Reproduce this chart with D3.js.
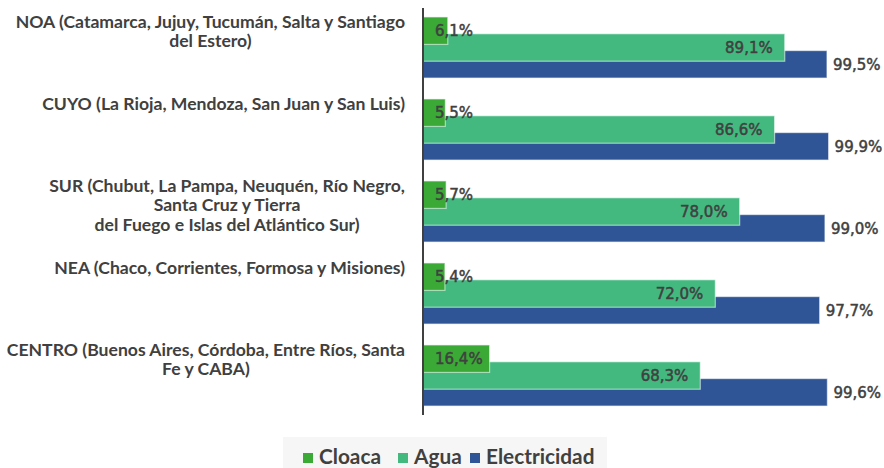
<!DOCTYPE html>
<html>
<head>
<meta charset="utf-8">
<script src="https://cdn.jsdelivr.net/npm/d3@7"></script>
<style>
  html, body { margin: 0; padding: 0; background: #ffffff; }
  svg { display: block; }
</style>
</head>
<body>
<svg id="chart" width="884" height="468"></svg>
<script>
const categories = [
  ["NOA (Catamarca, Jujuy, Tucumán, Salta y Santiago", "del Estero)"],
  ["CUYO (La Rioja, Mendoza, San Juan y San Luis)"],
  ["SUR (Chubut, La Pampa, Neuquén, Río Negro,", "Santa Cruz y Tierra", "del Fuego e Islas del Atlántico Sur)"],
  ["NEA (Chaco, Corrientes, Formosa y Misiones)"],
  ["CENTRO (Buenos Aires, Córdoba, Entre Ríos, Santa", "Fe y CABA)"]
];
const seriesNames = ["Cloaca", "Agua", "Electricidad"];
const cloaca = [6.1, 5.5, 5.7, 5.4, 16.4];
const agua = [89.1, 86.6, 78.0, 72.0, 68.3];
const electricidad = [99.5, 99.9, 99.0, 97.7, 99.6];
const colors = ["#3aa935", "#43b97f", "#2f5597"];

const seriesValues = [cloaca, agua, electricidad];
const catKeys = categories.map((c, i) => "c" + i);

const svg = d3.select("#chart");
const textColor = "#404040";

const x = d3.scaleLinear().domain([0, 100]).range([423, 829]);
const y = d3.scaleBand().domain(catKeys).range([6.5, 416.5]).paddingInner(0).paddingOuter(0);
const bw = y.bandwidth();
const barH = bw * 0.335;
const step = bw * 0.205;
const offset = d3.scalePoint().domain(seriesNames).range([0, 2 * step]);
const groupTop = k => y(k) + (bw - (2 * step + barH)) / 2;

// bars: draw Electricidad first, then Agua, then Cloaca on top
const barsG = svg.append("g");
[2, 1, 0].forEach(si => {
  barsG.selectAll(null)
    .data(seriesValues[si].map((v, i) => ({ v, k: catKeys[i] })))
    .enter().append("rect")
    .attr("x", x(0))
    .attr("y", d => groupTop(d.k) + offset(seriesNames[si]))
    .attr("width", d => x(d.v) - x(0))
    .attr("height", barH)
    .attr("fill", colors[si])
    .attr("stroke", "rgba(255,255,255,0.55)")
    .attr("stroke-width", 1.2);
});

// labels
const fmt = v => d3.format(".1f")(v).replace(".", ",") + "%";
const labG = svg.append("g")
  .attr("font-family", "'DejaVu Sans', Verdana, sans-serif")
  .attr("font-size", 15)
  .attr("fill", textColor)
  .attr("stroke", textColor)
  .attr("stroke-width", 0.5);
const cy = (k, si) => groupTop(k) + offset(seriesNames[si]) + barH / 2 + 5.5;

labG.selectAll(null).data(cloaca.map((v, i) => ({ v, k: catKeys[i] })))
  .enter().append("text")
  .attr("x", x(0) + 12).attr("y", d => cy(d.k, 0))
  .text(d => fmt(d.v));
labG.selectAll(null).data(agua.map((v, i) => ({ v, k: catKeys[i] })))
  .enter().append("text")
  .attr("x", d => x(d.v) - 12).attr("y", d => cy(d.k, 1))
  .attr("text-anchor", "end")
  .text(d => fmt(d.v));
labG.selectAll(null).data(electricidad.map((v, i) => ({ v, k: catKeys[i] })))
  .enter().append("text")
  .attr("x", d => x(d.v) + 6).attr("y", d => cy(d.k, 2))
  .text(d => fmt(d.v));

// category axis line
svg.append("line")
  .attr("x1", x(0)).attr("x2", x(0))
  .attr("y1", 8).attr("y2", 415)
  .attr("stroke", "#404040").attr("stroke-width", 2);

// category labels
const catG = svg.append("g")
  .attr("font-family", "Lato, 'Open Sans', sans-serif")
  .attr("font-weight", 700)
  .attr("font-size", 17.6)
  .attr("fill", textColor);
const rightEdge = 405;
const lineH = 19.5;
categories.forEach((lines, i) => {
  const g = catG.append("g");
  const top = groupTop(catKeys[i]);
  const texts = lines.map((ln, j) => g.append("text")
    .attr("y", top + 11 + j * lineH)
    .attr("text-anchor", "middle")
    .text(ln));
  const maxW = d3.max(texts, t => t.node().getComputedTextLength());
  texts.forEach(t => t.attr("x", rightEdge - maxW / 2));
});

// legend
const legG = svg.append("g");
legG.append("rect")
  .attr("x", 283).attr("y", 437).attr("width", 324).attr("height", 31)
  .attr("fill", "#f6f6f6");
const legX = [303, 398, 470];
seriesNames.forEach((s, i) => {
  legG.append("rect")
    .attr("x", legX[i]).attr("y", 453).attr("width", 10).attr("height", 10)
    .attr("fill", colors[i]);
  legG.append("text")
    .attr("x", legX[i] + 16).attr("y", 464)
    .attr("font-family", "Lato, 'Open Sans', sans-serif")
    .attr("font-weight", 700)
    .attr("font-size", 20.8)
    .attr("fill", textColor)
    .text(s);
});
</script>
</body>
</html>
